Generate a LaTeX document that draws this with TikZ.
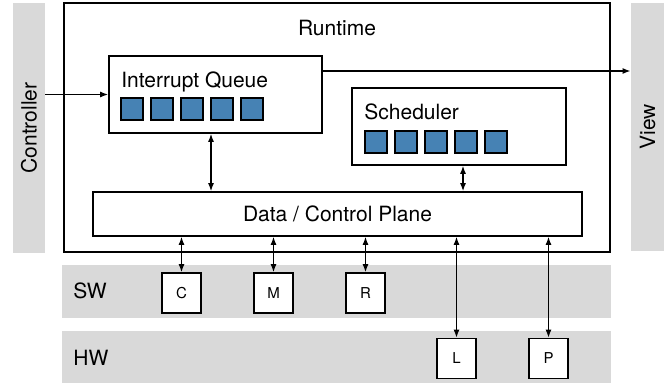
\documentclass[tikz,border=0pt]{standalone}
\usepackage{fontspec}
\setmainfont{TeX Gyre Heros}
\usetikzlibrary{arrows.meta}
\definecolor{band}{RGB}{217,217,217}
\definecolor{slot}{RGB}{70,130,180}

\begin{document}
\begin{tikzpicture}[x=0.5pt,y=-0.5pt,
  font=\fontsize{10.5}{12}\selectfont,
  band/.style={shape=rectangle,fill=band,inner sep=0pt},
  box/.style={shape=rectangle,draw=black,fill=white,line width=0.8pt,inner sep=0pt},
  slot/.style={shape=rectangle,draw=black,fill=slot,line width=0.6pt,minimum size=11pt,inner sep=0pt},
  unit/.style={box,minimum width=19.5pt,minimum height=20pt,font=\fontsize{7.5}{9}\selectfont},
  tag/.style={anchor=base west,inner sep=0pt},
  link/.style={line width=0.7pt,{Latex[length=4pt,width=3pt]}-{Latex[length=4pt,width=3pt]}},
  feed/.style={line width=0.7pt,-{Latex[length=4pt,width=3pt]}}]
\useasboundingbox (0,0) rectangle (664,383);

\node[band,minimum width=16pt,minimum height=125pt] (ctrl) at (29,128) {};
\node[rotate=90] (ctrltext) at (29,128) {Controller};
\node[band,minimum width=16.5pt,minimum height=124pt] (view) at (647.5,127) {};
\node[rotate=90] (viewtext) at (647.5,127) {View};
\node[band,minimum width=274.5pt,minimum height=26.5pt] (sw) at (336.5,291.5) {};
\node[band,minimum width=274.5pt,minimum height=26pt] (hw) at (336.5,357) {};
\node[tag] (swtext) at (73,299) {SW};
\node[tag] (hwtext) at (73,366) {HW};

\node[box,line width=1pt,minimum width=273pt,minimum height=124.5pt] (rt) at (337,127.5) {};
\node (rttext) at (337,28) {Runtime};

\node[box,minimum width=106.5pt,minimum height=38.5pt] (iq) at (215.5,94.5) {};
\node[tag] (iqtext) at (121,88) {Interrupt Queue};
\node[box,minimum width=107pt,minimum height=38.5pt] (sched) at (459,126.5) {};
\node[tag] (schedtext) at (364,120) {Scheduler};
\foreach \i in {0,...,4} {
  \node[slot] (iq\i) at (132+30*\i,109) {};
  \node[slot] (sched\i) at (376+30*\i,142) {};
}
\node[box,minimum width=244.5pt,minimum height=22pt] (dcp) at (337.5,214) {Data / Control Plane};

\node[unit] (c) at (181.5,293) {C};
\node[unit] (m) at (273.5,293) {M};
\node[unit] (r) at (365.5,293) {R};
\node[unit] (l) at (456.5,358.5) {L};
\node[unit] (p) at (548.5,358.5) {P};

\draw[feed] (iq.west -| ctrl.east) -- (iq.west);
\draw[feed] ([yshift=11.75pt]iq.east) -- ([yshift=11.75pt]iq.east -| view.west);
\draw[link] ([xshift=-2.25pt]iq.south) -- ([xshift=-2.25pt]iq.south |- dcp.north);
\draw[link] ([xshift=2pt]sched.south) -- ([xshift=2pt]sched.south |- dcp.north);
\foreach \u in {c,m,r,l,p}
  \draw[link] (\u.north |- dcp.south) -- (\u.north);
\end{tikzpicture}
\end{document}
